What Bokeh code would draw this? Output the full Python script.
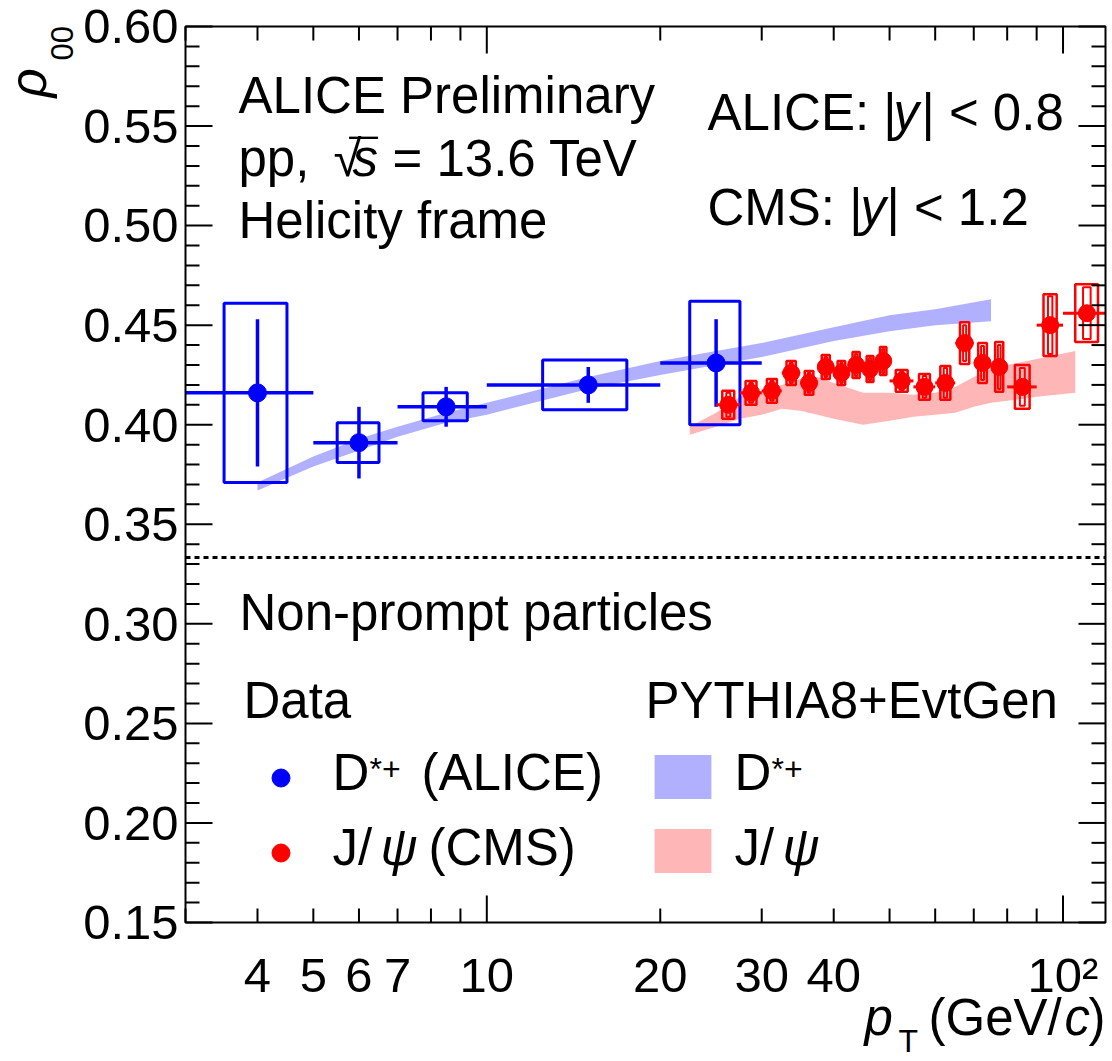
import math

from bokeh.core.properties import value
from bokeh.embed import file_html
from bokeh.models import ColumnDataSource, Label, Legend, LegendItem, Range1d
from bokeh.plotting import figure
from bokeh.resources import INLINE

# ---------------------------------------------------------------- data
# ALICE non-prompt D*+ rho00, helicity frame, |y| < 0.8
dstar_pt_low = [3, 5, 7, 10, 20]
dstar_pt_high = [5, 7, 10, 20, 30]
dstar_rho00 = [0.416, 0.391, 0.409, 0.420, 0.431]
dstar_stat = [0.037, 0.018, 0.010, 0.009, 0.022]
dstar_syst = [0.045, 0.010, 0.007, 0.0125, 0.031]

# CMS non-prompt J/psi rho00, |y| < 1.2
jpsi_pt_low = [25, 27.5, 30, 32.5, 35, 37.5, 40, 42.5, 45, 47.5,
               50, 55, 60, 65, 70, 75, 80, 90, 100]
jpsi_pt_high = [27.5, 30, 32.5, 35, 37.5, 40, 42.5, 45, 47.5, 50,
                55, 60, 65, 70, 75, 80, 90, 100, 120]
jpsi_rho00 = [0.410, 0.416, 0.417, 0.426, 0.421, 0.429, 0.426, 0.430, 0.428, 0.432,
              0.422, 0.419, 0.421, 0.441, 0.431, 0.429, 0.419, 0.450, 0.456]
jpsi_stat = [0.006, 0.005, 0.005, 0.005, 0.005, 0.005, 0.005, 0.0055, 0.0055, 0.006,
             0.0045, 0.0055, 0.0075, 0.009, 0.0085, 0.011, 0.0095, 0.0145, 0.013]
jpsi_syst = [0.007, 0.006, 0.006, 0.006, 0.006, 0.006, 0.006, 0.0065, 0.0065, 0.007,
             0.0055, 0.0065, 0.0085, 0.0105, 0.010, 0.0125, 0.011, 0.0155, 0.0145]

# PYTHIA8+EvtGen predictions (band = lower / upper edge)
pythia_dstar_pt = [4, 5, 6, 7, 8.5, 10, 15, 20, 25, 30, 40, 50, 60, 75]
pythia_dstar_low = [0.367, 0.379, 0.387, 0.394, 0.401, 0.405, 0.418, 0.425, 0.430, 0.434,
                    0.442, 0.447, 0.450, 0.452]
pythia_dstar_high = [0.371, 0.384, 0.393, 0.399, 0.406, 0.411, 0.424, 0.432, 0.437, 0.441,
                     0.449, 0.455, 0.458, 0.463]
pythia_jpsi_pt = [22.5, 25, 27.5, 30, 32.5, 35, 37.5, 40, 45, 50, 55, 60, 65, 70, 75, 80, 90, 105]
pythia_jpsi_low = [0.395, 0.399, 0.403, 0.405, 0.408, 0.407, 0.405, 0.403, 0.400, 0.402,
                   0.404, 0.405, 0.406, 0.409, 0.411, 0.412, 0.414, 0.416]
pythia_jpsi_high = [0.399, 0.406, 0.414, 0.417, 0.420, 0.423, 0.424, 0.421, 0.416, 0.416,
                    0.415, 0.416, 0.419, 0.424, 0.428, 0.430, 0.433, 0.437]

rho00_unpolarised = 1.0 / 3.0

# axis ticks
x_tick_values = [4, 5, 6, 7, 10, 20, 30, 40, 100]
x_tick_labels = ["4", "5", "6", "7", "10", "20", "30", "40", "10²"]
x_decades = [10, 100]
x_small_ticks = [3, 4, 5, 6, 7, 8, 9, 20, 30, 40, 50, 60, 70, 80, 90]
y_tick_values = [0.15, 0.20, 0.25, 0.30, 0.35, 0.40, 0.45, 0.50, 0.55, 0.60]
y_tick_labels = ["0.15", "0.20", "0.25", "0.30", "0.35", "0.40", "0.45", "0.50", "0.55", "0.60"]
y_minor_values = [round(0.15 + 0.01 * i, 2) for i in range(46) if i % 5]

# ---------------------------------------------------------------- geometry
FONT = "Liberation Sans"
BLUE = "#0000ff"
RED = "#ff0000"
W, H = 1112, 1061
BOX_L, BOX_R, BOX_T, BOX_B = 185, 1105, 26, 922      # axis box on the canvas
X_MIN, X_MAX = 3.0, 118.5
Y_MIN, Y_MAX = 0.15, 0.60
DEC = (BOX_R - BOX_L) / math.log10(X_MAX / X_MIN)      # pixels per decade
YPX = (Y_MAX - Y_MIN) / (BOX_B - BOX_T)                # rho00 per pixel
BASE = 0.35                                            # baseline correction, in em


def x_at(px):
    return 10 ** (math.log10(X_MIN) + (px - BOX_L) / DEC)


def y_at(py):
    return Y_MAX - (py - BOX_T) * YPX


def x_shift(x, dpx):
    return x * 10 ** (dpx / DEC)


p = figure(width=W, height=H, x_axis_type="log",
           x_range=Range1d(x_at(0), x_at(W)), y_range=Range1d(y_at(H), y_at(0)),
           x_axis_location=None, y_axis_location=None,
           output_backend="svg", toolbar_location=None,
           min_border=0)
p.grid.visible = False
p.outline_line_color = None
p.background_fill_color = "white"
p.border_fill_color = "white"

# ---------------------------------------------------------------- model bands
r_band_dstar = p.varea(x=pythia_dstar_pt, y1=pythia_dstar_low, y2=pythia_dstar_high,
                       fill_color="#5050ff", fill_alpha=0.45)
r_band_jpsi = p.varea(x=pythia_jpsi_pt, y1=pythia_jpsi_low, y2=pythia_jpsi_high,
                      fill_color="#ff5050", fill_alpha=0.42)

# unpolarised reference value
p.segment(x0=[X_MIN], x1=[X_MAX], y0=[rho00_unpolarised], y1=[rho00_unpolarised],
          line_color="black", line_width=3, line_dash="5 4")


# ---------------------------------------------------------------- data points
def make_source(lo, hi, rho, stat, syst):
    pt = [(a + b) / 2 for a, b in zip(lo, hi)]
    half = [0.25 * (b - a) for a, b in zip(lo, hi)]
    return ColumnDataSource(dict(
        pt=pt, lo=[max(a, X_MIN) for a in lo], hi=[min(b, X_MAX) for b in hi], rho=rho,
        stat_lo=[r - s for r, s in zip(rho, stat)], stat_hi=[r + s for r, s in zip(rho, stat)],
        syst_lo=[r - s for r, s in zip(rho, syst)], syst_hi=[r + s for r, s in zip(rho, syst)],
        box_l=[x - h for x, h in zip(pt, half)], box_r=[x + h for x, h in zip(pt, half)],
        in_l=[x - h / 3 for x, h in zip(pt, half)], in_r=[x + h / 3 for x, h in zip(pt, half)],
    ))


dsrc = make_source(dstar_pt_low, dstar_pt_high, dstar_rho00, dstar_stat, dstar_syst)
p.quad(left="box_l", right="box_r", bottom="syst_lo", top="syst_hi", source=dsrc,
       fill_color=None, line_color=BLUE, line_width=3)
p.segment(x0="pt", x1="pt", y0="stat_lo", y1="stat_hi", source=dsrc,
          line_color=BLUE, line_width=3.5)
p.segment(x0="lo", x1="hi", y0="rho", y1="rho", source=dsrc,
          line_color=BLUE, line_width=3.5)
r_dstar = p.scatter("pt", "rho", source=dsrc, marker="circle", size=18,
                    fill_color=BLUE, line_color=BLUE)

jsrc = make_source(jpsi_pt_low, jpsi_pt_high, jpsi_rho00, jpsi_stat, jpsi_syst)
p.quad(left="box_l", right="box_r", bottom="syst_lo", top="syst_hi", source=jsrc,
       fill_color=None, line_color=RED, line_width=2.5)
p.quad(left="in_l", right="in_r", bottom="stat_lo", top="stat_hi", source=jsrc,
       fill_color=None, line_color=RED, line_width=2)
p.segment(x0="lo", x1="hi", y0="rho", y1="rho", source=jsrc,
          line_color=RED, line_width=3)
r_jpsi = p.scatter("pt", "rho", source=jsrc, marker="circle", size=17,
                   fill_color=RED, line_color=RED)

# ---------------------------------------------------------------- axis box, ticks, tick labels
TICK_LONG, TICK_SHORT = 27, 14
p.quad(left=[X_MIN], right=[X_MAX], bottom=[Y_MIN], top=[Y_MAX],
       fill_color=None, line_color="black", line_width=2)


def y_ticks(values, length):
    n = len(values)
    p.segment(x0=[X_MIN] * n, x1=[x_shift(X_MIN, length)] * n, y0=values, y1=values,
              line_color="black", line_width=2)
    p.segment(x0=[X_MAX] * n, x1=[x_shift(X_MAX, -length)] * n, y0=values, y1=values,
              line_color="black", line_width=2)


def x_ticks(values, length):
    n = len(values)
    p.segment(x0=values, x1=values, y0=[Y_MIN] * n, y1=[Y_MIN + length * YPX] * n,
              line_color="black", line_width=2)
    p.segment(x0=values, x1=values, y0=[Y_MAX] * n, y1=[Y_MAX - length * YPX] * n,
              line_color="black", line_width=2)


y_ticks(y_tick_values, TICK_LONG)
y_ticks(y_minor_values, TICK_SHORT)
x_ticks(x_decades, TICK_LONG)
x_ticks(x_small_ticks, TICK_SHORT)

TICK_FONT = 49
p.text(x=[x_shift(X_MIN, -7)] * len(y_tick_values),
       y=[v - (17.5 - BASE * TICK_FONT) * YPX for v in y_tick_values], text=y_tick_labels,
       text_font=value(FONT), text_font_size=f"{TICK_FONT}px", text_color="black",
       text_align="right", text_baseline="alphabetic")
p.text(x=x_tick_values, y=[y_at(BOX_B + 70 - BASE * TICK_FONT)] * len(x_tick_values),
       text=x_tick_labels,
       text_font=value(FONT), text_font_size=f"{TICK_FONT}px", text_color="black",
       text_align="center", text_baseline="alphabetic")

# ---------------------------------------------------------------- legends (symbols)
common = dict(padding=0, margin=0, border_line_color=None, background_fill_alpha=0,
              label_standoff=0)
p.add_layout(Legend(items=[LegendItem(label=value(" "), renderers=[r_dstar]),
                           LegendItem(label=value(" "), renderers=[r_jpsi])],
                    location=(258, H - 875), glyph_width=45, glyph_height=45,
                    spacing=30, **common))
p.add_layout(Legend(items=[LegendItem(label=value(" "), renderers=[r_band_dstar]),
                           LegendItem(label=value(" "), renderers=[r_band_jpsi])],
                    location=(647, H - 878), glyph_width=71, glyph_height=55,
                    spacing=19, **common))


# ---------------------------------------------------------------- texts
def txt(s, cx, cy, size=51, style="normal", vertical=False, color="black"):
    """Place a text with its baseline start at canvas pixel (cx, cy)."""
    if vertical:
        cx -= BASE * size
    else:
        cy -= BASE * size
    p.add_layout(Label(x=cx, y=H - cy, x_units="screen", y_units="screen", text=s,
                       text_font=FONT, text_font_size=f"{size}px", text_font_style=style,
                       text_baseline="alphabetic", text_align="left",
                       angle=math.pi / 2 if vertical else 0.0, text_color=color))


txt("ALICE Preliminary", 238, 113)
txt("pp,", 238, 176)
txt("√", 333, 176)
txt("¯", 349, 176)
txt("s", 352, 176, style="italic")
txt("= 13.6 TeV", 392, 176)
txt("Helicity frame", 238, 238)

txt("ALICE: |", 707, 130)
txt("y", 893, 130, style="italic")
txt("| < 0.8", 921, 130)
txt("CMS: |", 707, 225)
txt("y", 860, 225, style="italic")
txt("| < 1.2", 886, 225)

txt("Non-prompt particles", 239, 630)

txt("Data", 243, 718)
txt("PYTHIA8+EvtGen", 645, 718)
txt("D", 332, 790)
txt("*+", 369, 780, size=32)
txt("(ALICE)", 421, 790)
txt("J/", 332, 865)
txt("ψ", 380, 865, style="italic")
txt("(CMS)", 428, 865)
txt("D", 734, 790)
txt("*+", 771, 780, size=32)
txt("J/", 734, 865)
txt("ψ", 782, 865, style="italic")

# axis titles
txt("p", 864, 1035, style="italic")
txt("T", 898, 1052, size=32)
txt("(GeV/", 928, 1035)
txt("c", 1064, 1035, style="italic")
txt(")", 1088, 1035)
txt("ρ", 46, 97, style="italic", vertical=True)
txt("00", 72, 60, size=31, vertical=True)

open("out.html", "w").write(file_html(p, INLINE))
